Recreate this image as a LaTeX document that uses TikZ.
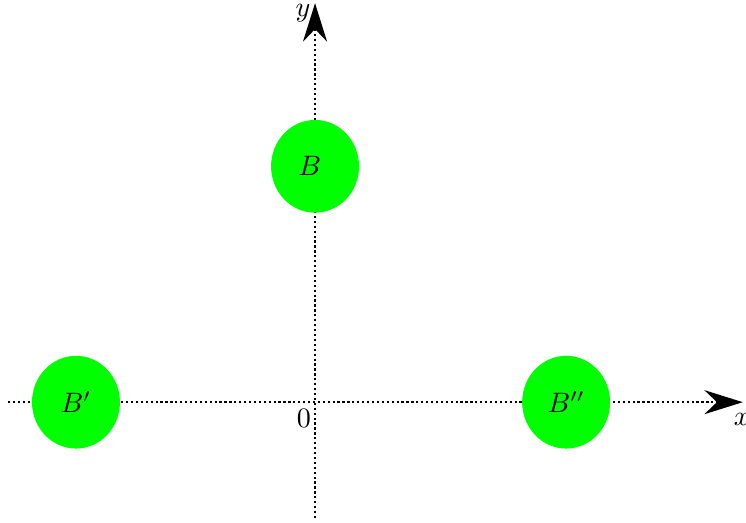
\documentclass[tikz,border=0pt]{standalone}
\usetikzlibrary{arrows.meta,shapes.geometric}
\begin{document}
\begin{tikzpicture}[
        axis/.style={black, line width=0.8pt, dash pattern=on 0.8pt off 0.95pt, -{Stealth[length=4.8mm,width=3mm]}},
        ball/.style={ellipse, fill=green, minimum width=1.1cm, minimum height=1.16cm, inner sep=0pt}
    ]
        \useasboundingbox (-3.94,-1.5) rectangle (5.39,5.03);
        % axes
        \coordinate (xstart) at (-3.84,0);
        \coordinate (xend) at (5.35,0);
        \coordinate (ystart) at (0,-1.45);
        \coordinate (yend) at (0,4.99);
        \draw[axis] (xstart) -- (xend);
        \draw[axis] (ystart) -- (yend);
        \node (xlabel) at (5.34,-0.22) {$x$};
        \node (ylabel) at (-0.15,4.86) {$y$};
        \node (origin) at (-0.14,-0.2) {$0$};
        % balls
        \node[ball] (B) at (0,2.95) {$B$\rule{1.3mm}{0pt}};
        \node[ball] (B1) at (-2.99,0) {$B'$};
        \node[ball] (B2) at (3.14,0) {$B''$};
    \end{tikzpicture}
\end{document}
